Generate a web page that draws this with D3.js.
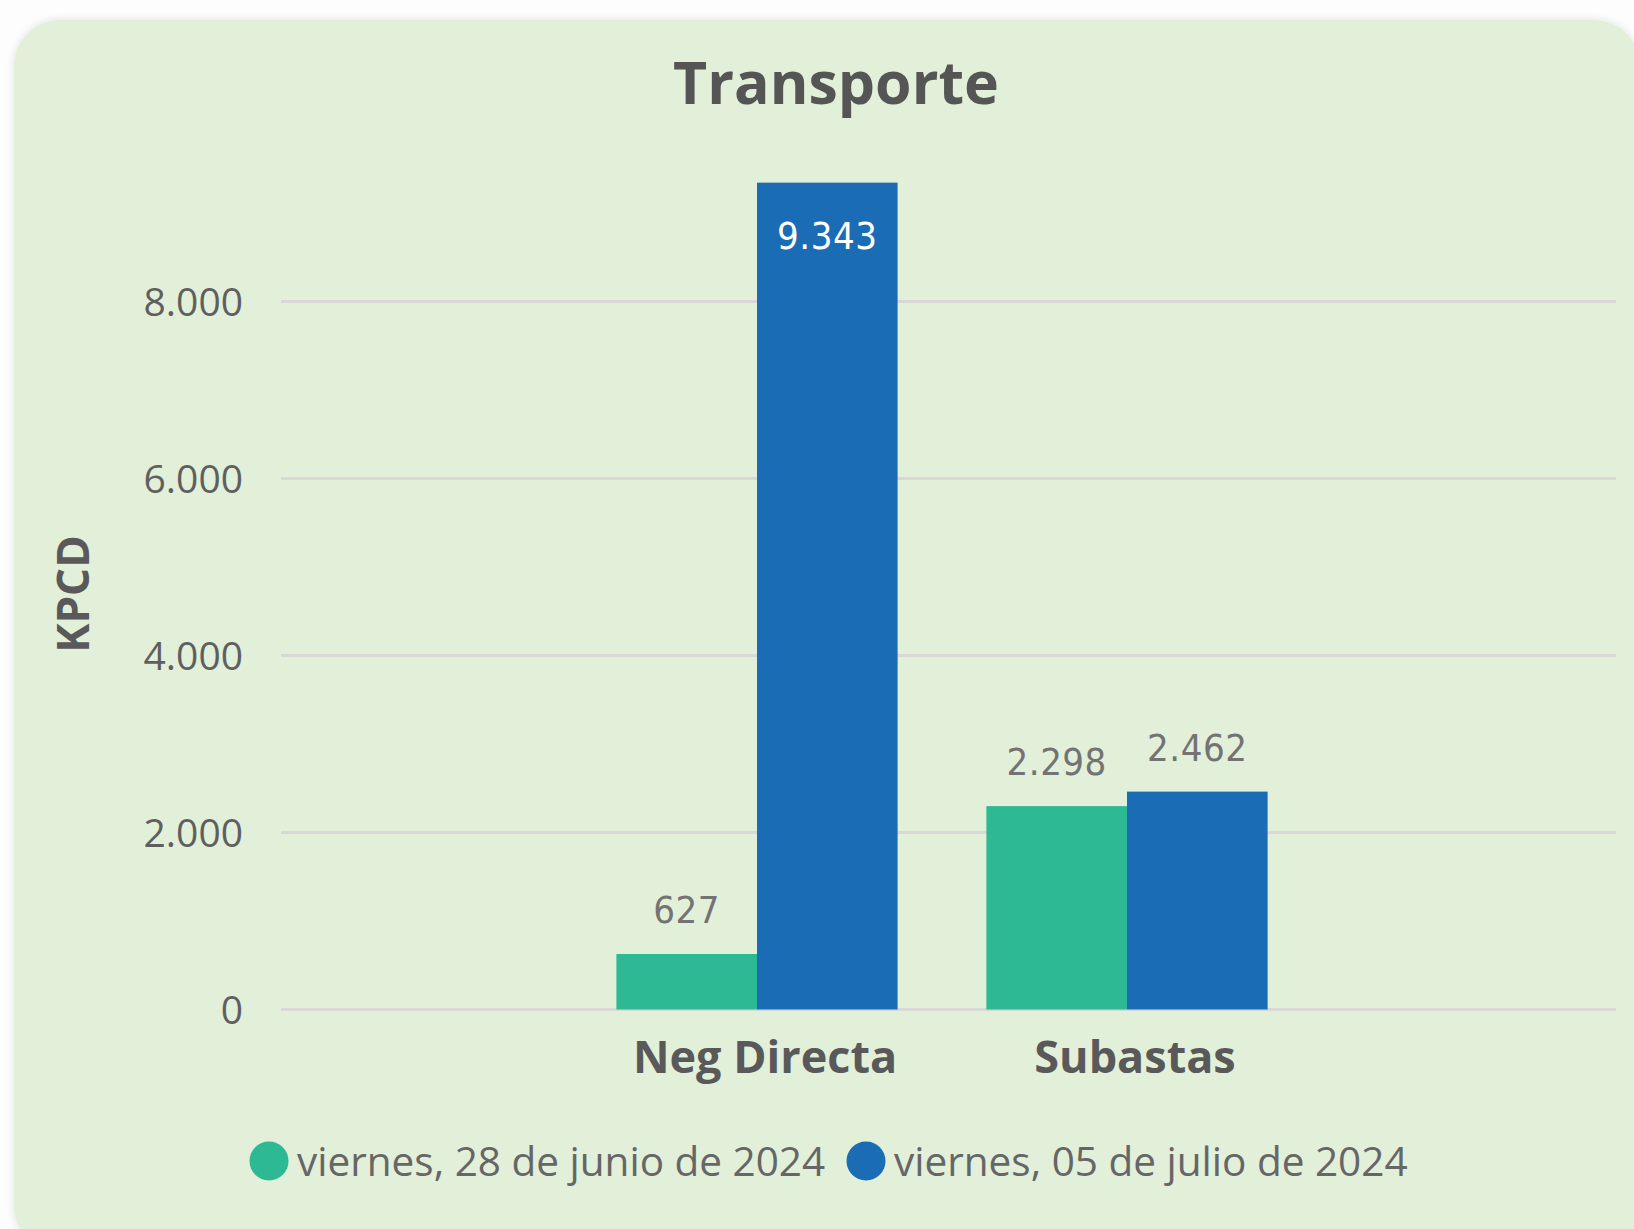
<!DOCTYPE html>
<html>
<head>
<meta charset="utf-8">
<script src="https://cdn.jsdelivr.net/npm/d3@7"></script>
<style>
  html, body { margin: 0; padding: 0; background: #fcfdfc; }
  svg { display: block; }
</style>
</head>
<body>
<div id="chart"></div>
<script>
// chart data
const title = "Transporte";
const yTitle = "KPCD";
const categories = ["Neg Directa", "Subastas"];
const seriesNames = ["viernes, 28 de junio de 2024", "viernes, 05 de julio de 2024"];
const seriesColors = ["#2cb993", "#1a6cb4"];
const values28jun = [627, 2298];
const values05jul = [9343, 2462];
const yTicks = [0, 2000, 4000, 6000, 8000];

const W = 1634, H = 1229;
const plot = {left: 281, right: 1616, top: 124.5, bottom: 1009.5};

const locale = d3.formatLocale({decimal: ",", thousands: ".", grouping: [3], currency: ["", ""]});
const fmt = locale.format(",d");

const svg = d3.select("#chart").append("svg")
    .attr("width", W).attr("height", H)
    .attr("viewBox", `0 0 ${W} ${H}`);

// card background
const defs = svg.append("defs");
const shadow = defs.append("filter").attr("id", "shadow").attr("x", "-5%").attr("y", "-5%").attr("width", "110%").attr("height", "110%");
shadow.append("feGaussianBlur").attr("in", "SourceAlpha").attr("stdDeviation", 4);
shadow.append("feOffset").attr("dx", 0).attr("dy", 0).attr("result", "blur");
shadow.append("feComponentTransfer").append("feFuncA").attr("type", "linear").attr("slope", 0.12);
const merge = shadow.append("feMerge");
merge.append("feMergeNode");
merge.append("feMergeNode").attr("in", "SourceGraphic");

svg.append("rect")
    .attr("x", 14).attr("y", 20).attr("width", 1626).attr("height", 1232)
    .attr("rx", 46).attr("ry", 46)
    .attr("fill", "#e2efd9")
    .attr("filter", "url(#shadow)");

// scales
const y = d3.scaleLinear().domain([0, 10000]).range([plot.bottom, plot.top]);
const x0 = d3.scaleBand().domain(categories).range([572, 1312]).paddingInner(0.24).paddingOuter(0.12);
const x1 = d3.scaleBand().domain([0, 1]).range([0, x0.bandwidth()]);

const rows = categories.map((c, i) => ({cat: c, vals: [values28jun[i], values05jul[i]]}));

// gridlines
svg.append("g").selectAll("line").data(yTicks).join("line")
    .attr("x1", plot.left).attr("x2", plot.right)
    .attr("y1", d => y(d)).attr("y2", d => y(d))
    .attr("stroke", "#d8d9d6").attr("stroke-width", 3);

// y axis labels
const yAxis = svg.append("g")
    .attr("transform", `translate(${plot.left - 38},0)`)
    .call(d3.axisLeft(y).tickValues(yTicks).tickFormat(fmt).tickSize(0).tickPadding(0));
yAxis.select(".domain").remove();
yAxis.selectAll("text")
    .attr("font-family", "'Open Sans', 'Noto Sans', sans-serif")
    .attr("font-size", 39).attr("fill", "#5f5f5f").attr("dy", "0.36em");

// y title
svg.append("text")
    .attr("transform", `translate(89,594) rotate(-90)`)
    .attr("text-anchor", "middle")
    .attr("font-family", "'Open Sans', sans-serif").attr("font-weight", 700)
    .attr("font-size", 44).attr("fill", "#595959")
    .text(yTitle);

// bars
const groups = svg.append("g").selectAll("g").data(rows).join("g")
    .attr("transform", d => `translate(${x0(d.cat)},0)`);

groups.selectAll("rect").data(d => d.vals).join("rect")
    .attr("x", (d, i) => x1(i)).attr("width", x1.bandwidth())
    .attr("y", d => y(d)).attr("height", d => y(0) - y(d))
    .attr("fill", (d, i) => seriesColors[i]);

// data labels
const labelFont = "'Liberation Sans Narrow', 'DejaVu Sans Condensed', Roboto, sans-serif";
groups.selectAll("text.val").data(d => d.vals).join("text")
    .attr("class", "val")
    .attr("x", (d, i) => x1(i) + x1.bandwidth() / 2)
    .attr("y", d => (y(0) - y(d) > 300) ? y(d) + 66 : y(d) - 31)
    .attr("text-anchor", "middle")
    .attr("font-family", labelFont).attr("font-size", 38)
    .attr("letter-spacing", 0.5)
    .attr("fill", d => (y(0) - y(d) > 300) ? "#ffffff" : "#737373")
    .text(d => fmt(d));

// category labels
svg.append("g").selectAll("text").data(categories).join("text")
    .attr("x", d => x0(d) + x0.bandwidth() / 2 + 8)
    .attr("y", 1073)
    .attr("text-anchor", "middle")
    .attr("font-family", "'Open Sans', sans-serif").attr("font-weight", 700)
    .attr("font-size", 45).attr("fill", "#595959")
    .text(d => d);

// title
svg.append("text")
    .attr("x", 836).attr("y", 104)
    .attr("text-anchor", "middle")
    .attr("font-family", "'Open Sans', sans-serif").attr("font-weight", 700)
    .attr("font-size", 59).attr("fill", "#555555")
    .text(title);

// legend
const legendX = [269, 866];
const legend = svg.append("g").selectAll("g").data(seriesNames).join("g")
    .attr("transform", (d, i) => `translate(${legendX[i]},1161)`);
legend.append("circle").attr("r", 19.5).attr("fill", (d, i) => seriesColors[i]);
legend.append("text")
    .attr("x", 28).attr("y", 15)
    .attr("font-family", "'Open Sans', sans-serif")
    .attr("font-size", 40.5).attr("fill", "#666666")
    .text(d => d);
</script>
</body>
</html>
